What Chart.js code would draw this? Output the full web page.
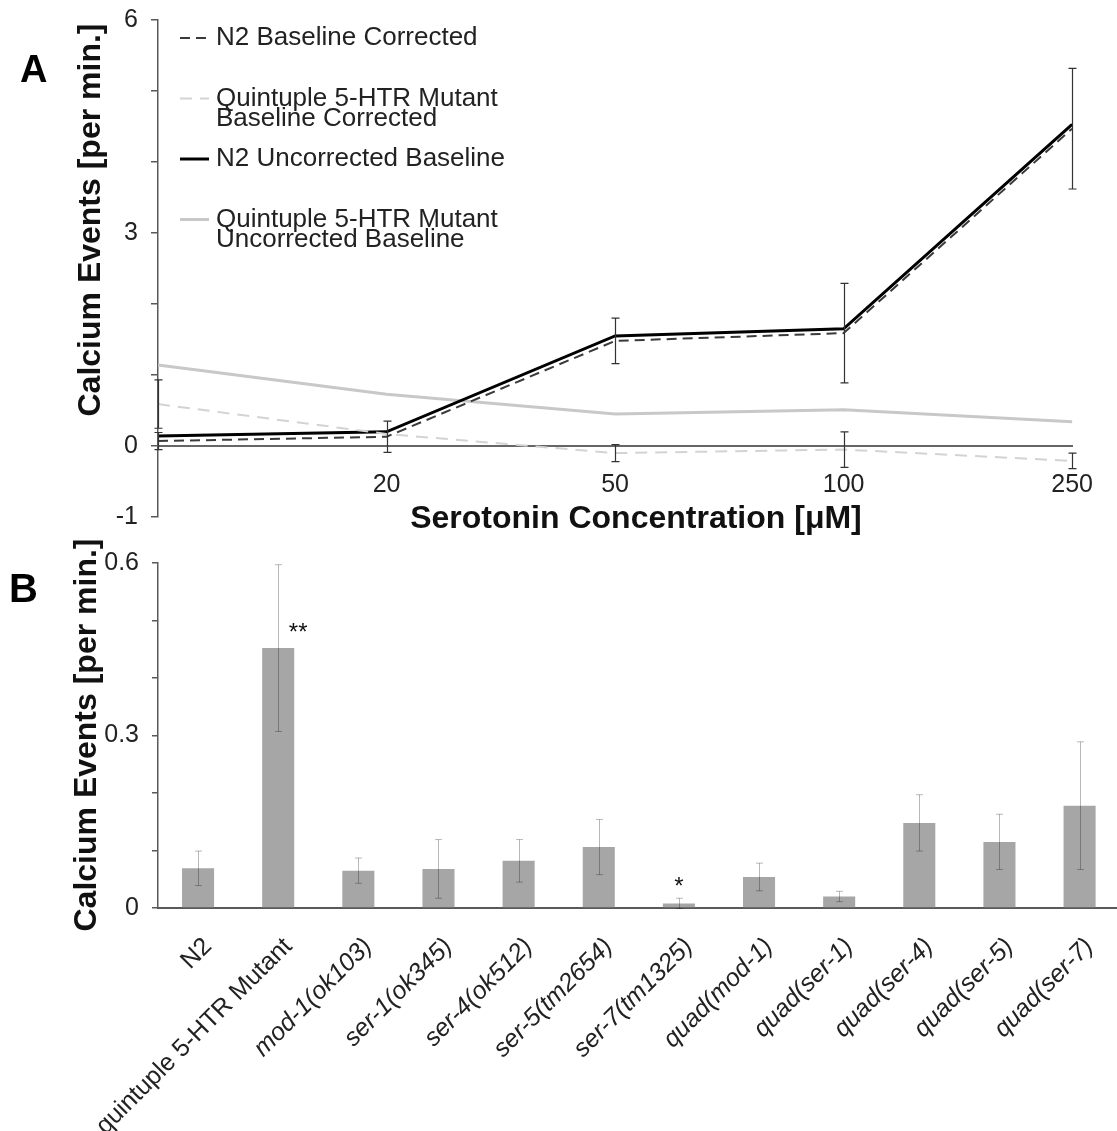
<!DOCTYPE html>
<html>
<head>
<meta charset="utf-8">
<script src="https://cdn.jsdelivr.net/npm/chart.js@4.4.1/dist/chart.umd.min.js"></script>
<style>
html, body { margin: 0; padding: 0; background: #fff; overflow: hidden; }
#fig { position: relative; width: 1117px; height: 1131px; overflow: hidden; }
canvas { position: absolute; left: 0; }
.tag { position: absolute; font-family: "Liberation Sans", Arial, sans-serif; font-weight: bold; color: #000; }
</style>
</head>
<body>
<div id="fig">
  <canvas id="panelA" width="1117" height="545" style="top:0"></canvas>
  <canvas id="panelB" width="1125" height="606" style="top:525px"></canvas>
  <div class="tag" style="left:20px;top:50px;font-size:38px;line-height:38px">A</div>
  <div class="tag" style="left:9px;top:568px;font-size:40px;line-height:40px">B</div>
</div>
<script>
// panel A: calcium events vs serotonin concentration
var concentrations = ['', '20', '50', '100', '250'];
var n2Corrected      = [0.07, 0.13, 1.48, 1.59, 4.47];
var n2CorrectedErr   = [0.12, 0.22, 0.32, 0.70, 0.85];
var quintCorrected   = [0.59, 0.17, -0.10, -0.05, -0.21];
var quintCorrectedErr= [0.34, 0, 0.12, 0.25, 0.11];
var n2Uncorrected    = [0.14, 0.20, 1.55, 1.65, 4.53];
var quintUncorrected = [1.14, 0.73, 0.45, 0.51, 0.34];
var yLabelsA = [6, 3, 0, -1];

// panel B: calcium events per strain
var strains = ['N2', 'quintuple 5-HTR Mutant', 'mod-1(ok103)', 'ser-1(ok345)', 'ser-4(ok512)',
  'ser-5(tm2654)', 'ser-7(tm1325)', 'quad(mod-1)', 'quad(ser-1)', 'quad(ser-4)', 'quad(ser-5)', 'quad(ser-7)'];
var eventRate = [0.069, 0.452, 0.065, 0.068, 0.082, 0.106, 0.008, 0.054, 0.020, 0.148, 0.115, 0.178];
var eventErr  = [0.030, 0.145, 0.022, 0.051, 0.037, 0.048, 0.009, 0.024, 0.009, 0.049, 0.048, 0.111];
var significance = ['', '**', '', '', '', '', '*', '', '', '', '', ''];
var yLabelsB = [0, 0.3, 0.6];

Chart.defaults.font.family = '"Liberation Sans", Arial, sans-serif';
Chart.defaults.font.size = 25;
Chart.defaults.color = '#222';

// vertical error bars for any dataset that has an "errors" array
var errorBars = {
  id: 'errorBars',
  afterDatasetsDraw: function (chart, args, o) {
    var ctx = chart.ctx, y = chart.scales.y;
    chart.data.datasets.forEach(function (ds, di) {
      if (!ds.errors) return;
      var meta = chart.getDatasetMeta(di);
      ctx.save();
      ctx.strokeStyle = o.color;
      ctx.lineWidth = o.width;
      meta.data.forEach(function (el, i) {
        var e = ds.errors[i];
        if (!e) return;
        var x = Math.round(el.x) + 0.5;
        var top = y.getPixelForValue(ds.data[i] + e);
        var bot = y.getPixelForValue(ds.data[i] - e);
        ctx.beginPath();
        ctx.moveTo(x, top); ctx.lineTo(x, bot);
        ctx.moveTo(x - o.cap, top); ctx.lineTo(x + o.cap, top);
        ctx.moveTo(x - o.cap, bot); ctx.lineTo(x + o.cap, bot);
        ctx.stroke();
      });
      ctx.restore();
    });
  }
};

// legend inside plot with multi-line labels
var lineLegend = {
  id: 'lineLegend',
  afterDraw: function (chart, args, o) {
    var ctx = chart.ctx;
    ctx.save();
    ctx.font = o.font;
    ctx.fillStyle = o.color;
    ctx.textBaseline = 'middle';
    ctx.textAlign = 'left';
    chart.data.datasets.forEach(function (ds, i) {
      var y = o.top + i * o.rowGap;
      ctx.save();
      ctx.strokeStyle = ds.borderColor;
      ctx.lineWidth = ds.borderWidth;
      ctx.setLineDash(ds.borderDash || []);
      ctx.beginPath();
      ctx.moveTo(o.left, y);
      ctx.lineTo(o.left + o.sample, y);
      ctx.stroke();
      ctx.restore();
      ds.label.split('\n').forEach(function (line, k) {
        ctx.fillText(line, o.left + o.sample + o.gap, y + k * o.lineGap);
      });
    });
    ctx.restore();
  }
};

// axis titles placed like the original figure
var axisTitles = {
  id: 'axisTitles',
  afterDraw: function (chart, args, o) {
    var ctx = chart.ctx;
    ctx.save();
    ctx.font = o.font;
    ctx.fillStyle = o.color;
    ctx.textAlign = 'center';
    ctx.textBaseline = 'alphabetic';
    o.items.forEach(function (t) {
      ctx.save();
      ctx.translate(t.x, t.y);
      if (t.vertical) ctx.rotate(-Math.PI / 2);
      ctx.fillText(t.text, 0, 0);
      ctx.restore();
    });
    ctx.restore();
  }
};

// significance stars
var starMarks = {
  id: 'starMarks',
  afterDatasetsDraw: function (chart, args, o) {
    var ds = chart.data.datasets[0], meta = chart.getDatasetMeta(0), y = chart.scales.y, ctx = chart.ctx;
    ctx.save();
    ctx.font = o.font;
    ctx.fillStyle = o.color;
    ctx.textAlign = 'center';
    ctx.textBaseline = 'middle';
    meta.data.forEach(function (bar, i) {
      var s = ds.stars[i];
      if (!s) return;
      var top = y.getPixelForValue(ds.data[i]);
      var errTop = y.getPixelForValue(ds.data[i] + ds.errors[i]);
      if (top - errTop > 30) ctx.fillText(s, bar.x + 20, top - 15);
      else ctx.fillText(s, bar.x, errTop - 11);
    });
    ctx.restore();
  }
};

// keep the y axis a fixed width and let layout padding set top/bottom
function fixYAxis(s) {
  s.width = 158;
  s.paddingTop = 0;
  s.paddingBottom = 0;
}

new Chart(document.getElementById('panelA'), {
  type: 'line',
  data: {
    labels: concentrations,
    datasets: [
      { label: 'N2 Baseline Corrected', data: n2Corrected, errors: n2CorrectedErr,
        borderColor: '#3a3a3a', borderWidth: 2, borderDash: [10, 6] },
      { label: 'Quintuple 5-HTR Mutant\nBaseline Corrected', data: quintCorrected, errors: quintCorrectedErr,
        borderColor: '#d3d3d3', borderWidth: 2, borderDash: [12, 8] },
      { label: 'N2 Uncorrected Baseline', data: n2Uncorrected,
        borderColor: '#000000', borderWidth: 3 },
      { label: 'Quintuple 5-HTR Mutant\nUncorrected Baseline', data: quintUncorrected,
        borderColor: '#c8c8c8', borderWidth: 3 }
    ]
  },
  options: {
    responsive: false,
    animation: false,
    layout: { padding: { top: 20, right: 32, bottom: 28, left: 0 } },
    elements: { point: { radius: 0 }, line: { tension: 0 } },
    plugins: {
      legend: { display: false },
      tooltip: { enabled: false },
      errorBars: { color: '#333', width: 1.2, cap: 4 },
      lineLegend: { left: 180, sample: 29, gap: 7, top: 38, rowGap: 60.5, lineGap: 20.5,
        font: '26px "Liberation Sans", Arial, sans-serif', color: '#222' },
      axisTitles: { font: 'bold 32px "Liberation Sans", Arial, sans-serif', color: '#111',
        items: [
          { text: 'Calcium Events [per min.]', x: 100, y: 220, vertical: true },
          { text: 'Serotonin Concentration [\u03bcM]', x: 636, y: 528 }
        ] }
    },
    scales: {
      x: {
        position: { y: 0 },
        grid: { display: false, drawTicks: false },
        border: { color: '#666', width: 2 },
        ticks: { padding: 24, autoSkip: false, maxRotation: 0 }
      },
      y: {
        min: -1, max: 6,
        ticks: { stepSize: 1, padding: 13,
          callback: function (v) { return yLabelsA.indexOf(v) >= 0 ? String(v) : ''; } },
        grid: { drawOnChartArea: false, tickLength: 7, color: '#595959', lineWidth: 1.5 },
        border: { color: '#595959', width: 1.5 },
        afterFit: fixYAxis
      }
    }
  },
  plugins: [errorBars, lineLegend, axisTitles]
});

new Chart(document.getElementById('panelB'), {
  type: 'bar',
  data: {
    labels: strains,
    datasets: [{ data: eventRate, errors: eventErr, stars: significance,
      backgroundColor: '#a6a6a6', barPercentage: 0.4, categoryPercentage: 1 }]
  },
  options: {
    responsive: false,
    animation: false,
    layout: { padding: { top: 38, right: 5, bottom: 0, left: 0 } },
    plugins: {
      legend: { display: false },
      tooltip: { enabled: false },
      errorBars: { color: 'rgba(0,0,0,0.28)', width: 1, cap: 3.5 },
      starMarks: { font: '24px "Liberation Sans", Arial, sans-serif', color: '#111' },
      axisTitles: { font: 'bold 32px "Liberation Sans", Arial, sans-serif', color: '#111',
        items: [ { text: 'Calcium Events [per min.]', x: 96, y: 210, vertical: true } ] }
    },
    scales: {
      x: {
        grid: { display: false, drawTicks: false },
        border: { color: '#595959', width: 2 },
        ticks: { autoSkip: false, minRotation: 45, maxRotation: 45, padding: 24, labelOffset: 10,
          font: function (c) { return { size: 25, style: c.index >= 2 ? 'italic' : 'normal' }; } },
        afterFit: function (s) { s.height = 223; }
      },
      y: {
        min: 0, max: 0.6,
        ticks: { stepSize: 0.1, padding: 13,
          callback: function (v) {
            return yLabelsB.some(function (t) { return Math.abs(v - t) < 1e-6; }) ? String(+v.toFixed(1)) : '';
          } },
        grid: { drawOnChartArea: false, tickLength: 6, color: '#595959', lineWidth: 1.5 },
        border: { color: '#595959', width: 1.5 },
        afterFit: fixYAxis
      }
    }
  },
  plugins: [errorBars, starMarks, axisTitles]
});
</script>
</body>
</html>
